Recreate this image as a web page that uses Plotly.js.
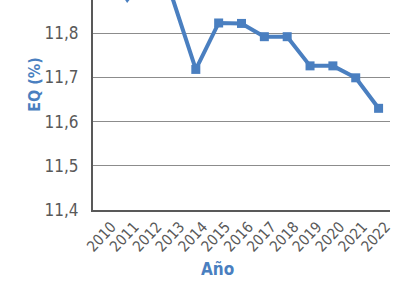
<!DOCTYPE html>
<html><head><meta charset="utf-8">
<script src="https://cdn.plot.ly/plotly-3.0.1.min.js"></script>
<style>html,body{margin:0;padding:0;background:#fff}#c{width:410px;height:300px}</style>
</head><body><div id="c"></div>
<script>
var years = ["2010","2011","2012","2013","2014","2015","2016","2017","2018","2019","2020","2021","2022"];
var eq = [11.95, 11.876, 11.94, 11.876, 11.718, 11.823, 11.822, 11.792, 11.792, 11.726, 11.726, 11.699, 11.630];
var yTicks = [11.4, 11.5, 11.6, 11.7, 11.8, 11.9];
var xTitle = "Año";
var yTitle = "EQ (%)";

var font = "'Liberation Sans Narrow', 'DejaVu Sans Condensed', sans-serif";
var blue = "#4a7fc0";
Plotly.newPlot("c", [{
  x: years, y: eq, type: "scatter", mode: "lines+markers",
  line: {color: blue, width: 4},
  marker: {color: blue, symbol: "square", size: 9},
  cliponaxis: false, hoverinfo: "none"
}], {
  width: 410, height: 300,
  margin: {l: 93, r: 20, t: 0, b: 89.5},
  paper_bgcolor: "#fff", plot_bgcolor: "#fff",
  separators: ",.",
  showlegend: false,
  xaxis: {
    type: "category", range: [-0.5, 12.5],
    tickangle: -47, tickfont: {family: font, size: 15, color: "#595959"},
    ticklabelstandoff: 0, ticklabelshift: 7,
    showline: true, linecolor: "#595959", linewidth: 2,
    showgrid: false, ticks: "", fixedrange: true
  },
  yaxis: {
    range: [11.4, 11.875], tickvals: yTicks, tickformat: ".1f",
    tickfont: {family: font, size: 17, color: "#595959"},
    ticklabelstandoff: 9,
    showline: true, linecolor: "#595959", linewidth: 2,
    showgrid: true, gridcolor: "#8c8c8c", gridwidth: 1,
    zeroline: false, ticks: "", fixedrange: true
  },
  annotations: [
    {text: "<b>" + xTitle + "</b>", xref: "paper", yref: "paper", x: (217 - 93) / 297, y: -(270 - 210.5) / 210.5,
     xanchor: "center", yanchor: "middle", showarrow: false, font: {family: font, size: 17, color: blue}},
    {text: "<b>" + yTitle + "</b>", xref: "paper", yref: "paper", x: (35 - 93) / 297, y: (210.5 - 85) / 210.5,
     xanchor: "center", yanchor: "middle", textangle: -90, showarrow: false, font: {family: font, size: 16, color: blue}}
  ]
}, {staticPlot: true});
</script></body></html>
